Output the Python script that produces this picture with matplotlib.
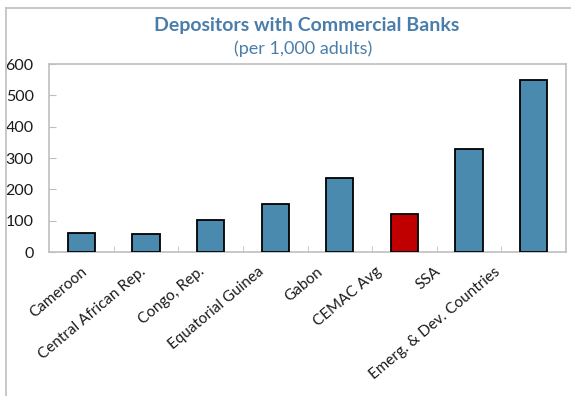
import matplotlib
matplotlib.use("Agg")
import matplotlib.pyplot as plt
import matplotlib.transforms as mtransforms

categories = ["Cameroon", "Central African Rep.", "Congo, Rep.", "Equatorial Guinea",
              "Gabon", "CEMAC Avg", "SSA", "Emerg. & Dev. Countries"]
values = [61, 57, 102, 153, 236, 121, 330, 548]
yticks = [0, 100, 200, 300, 400, 500, 600]

blue = "#4A8AAE"
red = "#C00000"
colors = [red if c == "CEMAC Avg" else blue for c in categories]

plt.rcParams['font.family'] = ['Lato', 'DejaVu Sans']

fig = plt.figure(figsize=(5.71, 3.96), dpi=100)
W, H = 571, 396
ax = fig.add_axes([49 / W, 1 - 252 / H, (566 - 49) / W, (252 - 64) / H])

x = list(range(len(categories)))
ax.bar(x, values, width=0.42, color=colors, edgecolor="black", linewidth=1.3, zorder=3)

ax.set_xlim(-0.5, len(categories) - 0.5)
ax.set_ylim(0, 600)
ax.set_yticks(yticks)
ax.set_yticklabels([str(v) for v in yticks], fontsize=11.5, color="#1a1a1a")
ax.tick_params(axis="y", direction="in", length=5, color="#BFBFBF", pad=11)

ax.set_xticks([i + 0.5 for i in range(len(categories) - 1)], minor=True)
ax.set_xticks(x)
ax.set_xticklabels(categories, rotation=40, ha="right", rotation_mode="anchor",
                   fontsize=11, color="#1a1a1a")
ax.tick_params(axis="x", which="major", length=0, pad=9)
ax.tick_params(axis="x", which="minor", direction="in", length=4, color="#BFBFBF")
for i, lbl in enumerate(ax.get_xticklabels()):
    dx = (-1 - 5.6 * i) / 100.0
    lbl.set_transform(lbl.get_transform() + mtransforms.ScaledTranslation(dx, 0, fig.dpi_scale_trans))

for s in ax.spines.values():
    s.set_color("#BFBFBF")
    s.set_linewidth(1.2)

fig.text(307 / W, 1 - 25 / H, "Depositors with Commercial Banks", ha="center", va="center",
         fontsize=14, fontweight="bold", color="#4A7EAA")
fig.text(303 / W, 1 - 49 / H, "(per 1,000 adults)", ha="center", va="center",
         fontsize=13, color="#4A7EAA")

# outer frame lines
fig.add_artist(plt.Line2D([6 / W, 6 / W], [0, 1 - 8 / H], transform=fig.transFigure,
                          color="#BFBFBF", linewidth=1.2))
fig.add_artist(plt.Line2D([6 / W, 1], [1 - 8 / H, 1 - 8 / H], transform=fig.transFigure,
                          color="#BFBFBF", linewidth=1.2))

fig.savefig("out.png", dpi=100)
